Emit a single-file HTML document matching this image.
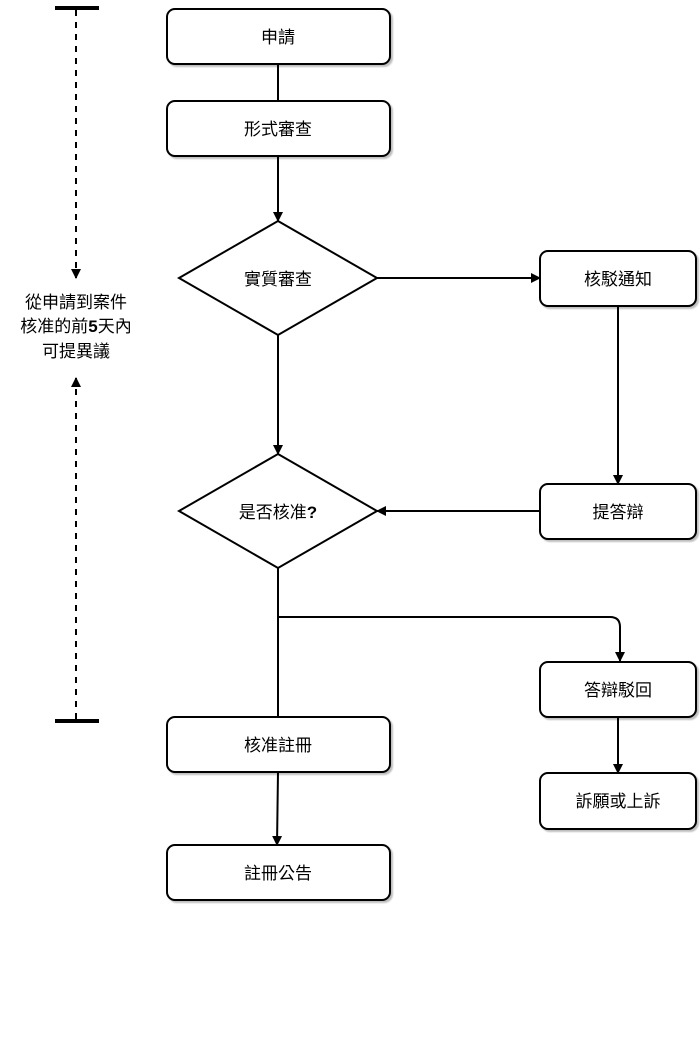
<!DOCTYPE html>
<html><head><meta charset="utf-8"><style>
body{margin:0;background:#fff}
svg text{font-family:"Liberation Sans","Noto Sans CJK TC",sans-serif;font-size:17px;fill:#000}
</style></head><body>
<svg width="700" height="1044" viewBox="0 0 700 1044" xmlns="http://www.w3.org/2000/svg">
<defs>
<marker id="a" markerWidth="10" markerHeight="10" refX="9" refY="5" orient="auto" markerUnits="userSpaceOnUse"><path d="M0,0L10,5L0,10z" fill="#000"/></marker>
<filter id="s" x="-10%" y="-10%" width="130%" height="130%"><feDropShadow dx="2" dy="2" stdDeviation="0.8" flood-color="#000" flood-opacity="0.25"/></filter>
</defs>
<g stroke="#000" stroke-width="2" fill="none">
<line x1="55" y1="8" x2="99" y2="8" stroke-width="4"/>
<line x1="55" y1="721" x2="99" y2="721" stroke-width="4"/>
<line x1="76" y1="10" x2="76" y2="278" stroke-dasharray="6,6" marker-end="url(#a)"/>
<line x1="76" y1="719" x2="76" y2="378" stroke-dasharray="6,6" marker-end="url(#a)"/>
<line x1="278" y1="64" x2="278" y2="101"/>
<line x1="278" y1="156" x2="278" y2="221" marker-end="url(#a)"/>
<line x1="377" y1="278" x2="540" y2="278" marker-end="url(#a)"/>
<line x1="618" y1="306" x2="618" y2="484" marker-end="url(#a)"/>
<line x1="278" y1="335" x2="278" y2="454" marker-end="url(#a)"/>
<line x1="540" y1="511" x2="377" y2="511" marker-end="url(#a)"/>
<line x1="278" y1="568" x2="278" y2="717"/>
<path d="M278,617H610Q620,617 620,627V661" marker-end="url(#a)"/>
<line x1="618" y1="717" x2="618" y2="773" marker-end="url(#a)"/>
<line x1="278" y1="772" x2="277" y2="845" marker-end="url(#a)"/>
</g>
<g stroke="#000" stroke-width="2" fill="#fff" filter="url(#s)">
<rect x="167" y="9" width="223" height="55" rx="8"/>
<rect x="167" y="101" width="223" height="55" rx="8"/>
<rect x="540" y="251" width="156" height="55" rx="8"/>
<rect x="540" y="484" width="156" height="55" rx="8"/>
<rect x="540" y="662" width="156" height="55" rx="8"/>
<rect x="540" y="773" width="156" height="56" rx="8"/>
<rect x="167" y="717" width="223" height="55" rx="8"/>
<rect x="167" y="845" width="223" height="55" rx="8"/>
</g>
<g stroke="#000" stroke-width="2" fill="#fff">
<path d="M278,221L377,278L278,335L179,278z"/>
<path d="M278,454L377,511L278,568L179,511z"/>
</g>
<g text-anchor="middle">
<text x="278" y="43">申請</text>
<text x="278" y="135">形式審查</text>
<text x="278" y="285">實質審查</text>
<text x="618" y="285">核駁通知</text>
<text x="278" y="518">是否核准<tspan font-weight="bold">?</tspan></text>
<text x="618" y="518">提答辯</text>
<text x="618" y="696">答辯駁回</text>
<text x="618" y="807">訴願或上訴</text>
<text x="278" y="751">核准註冊</text>
<text x="278" y="879">註冊公告</text>
<text x="76" y="308">從申請到案件</text>
<text x="76" y="332">核准的前<tspan font-weight="bold">5</tspan>天內</text>
<text x="76" y="357">可提異議</text>
</g>
</svg>
</body></html>
